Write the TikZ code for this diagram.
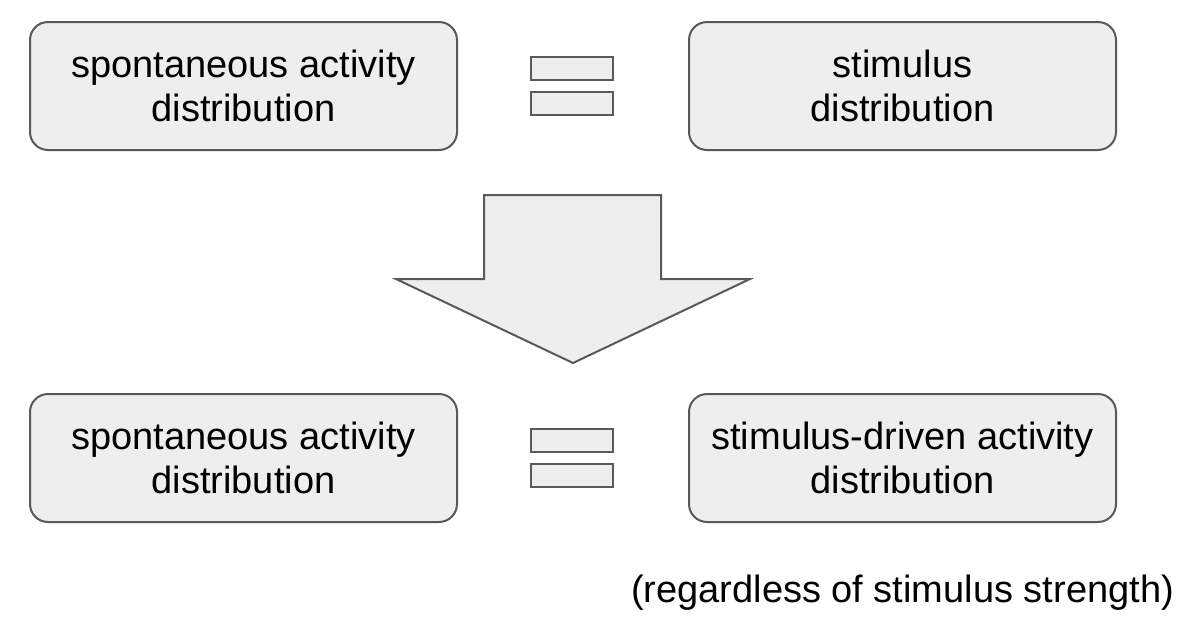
\documentclass[tikz,border=0pt]{standalone}
\usepackage{fontspec}
\setmainfont{Liberation Sans}
\definecolor{boxfill}{HTML}{EEEEEE}
\definecolor{boxline}{HTML}{595959}
\begin{document}
\begin{tikzpicture}[x=1pt,y=-1pt,
  card/.style={draw=boxline, fill=boxfill, line width=2pt, rounded corners=18pt,
    minimum width=427pt, minimum height=128pt, align=center, inner sep=0pt,
    font=\fontsize{38}{44}\selectfont},
  bar/.style={draw=boxline, fill=boxfill, line width=2pt, minimum width=82pt,
    minimum height=23pt, inner sep=0pt},
  note/.style={font=\fontsize{38}{44}\selectfont, inner sep=0pt}]
\useasboundingbox (0,0) rectangle (1187,630);
\node[card] (tl) at (243.5,86) {spontaneous activity\\distribution};
\node[card] (tr) at (902.5,86) {stimulus\\distribution};
\node[bar] (e1a) at (572,68.5) {};
\node[bar] (e1b) at (572,103.5) {};
\draw[draw=boxline, fill=boxfill, line width=2pt, line join=miter]
  (484,195) -- (661,195) -- (661,279) -- (750,279) -- (573,363) -- (396,279) -- (484,279) -- cycle;
\node[card] (bl) at (243.5,458) {spontaneous activity\\distribution};
\node[card] (br) at (902.5,458) {stimulus-driven activity\\distribution};
\node[bar] (e2a) at (572,440.5) {};
\node[bar] (e2b) at (572,475.5) {};
\node[note] (nt) at (902.5,593) {(regardless of stimulus strength)};
\end{tikzpicture}
\end{document}
